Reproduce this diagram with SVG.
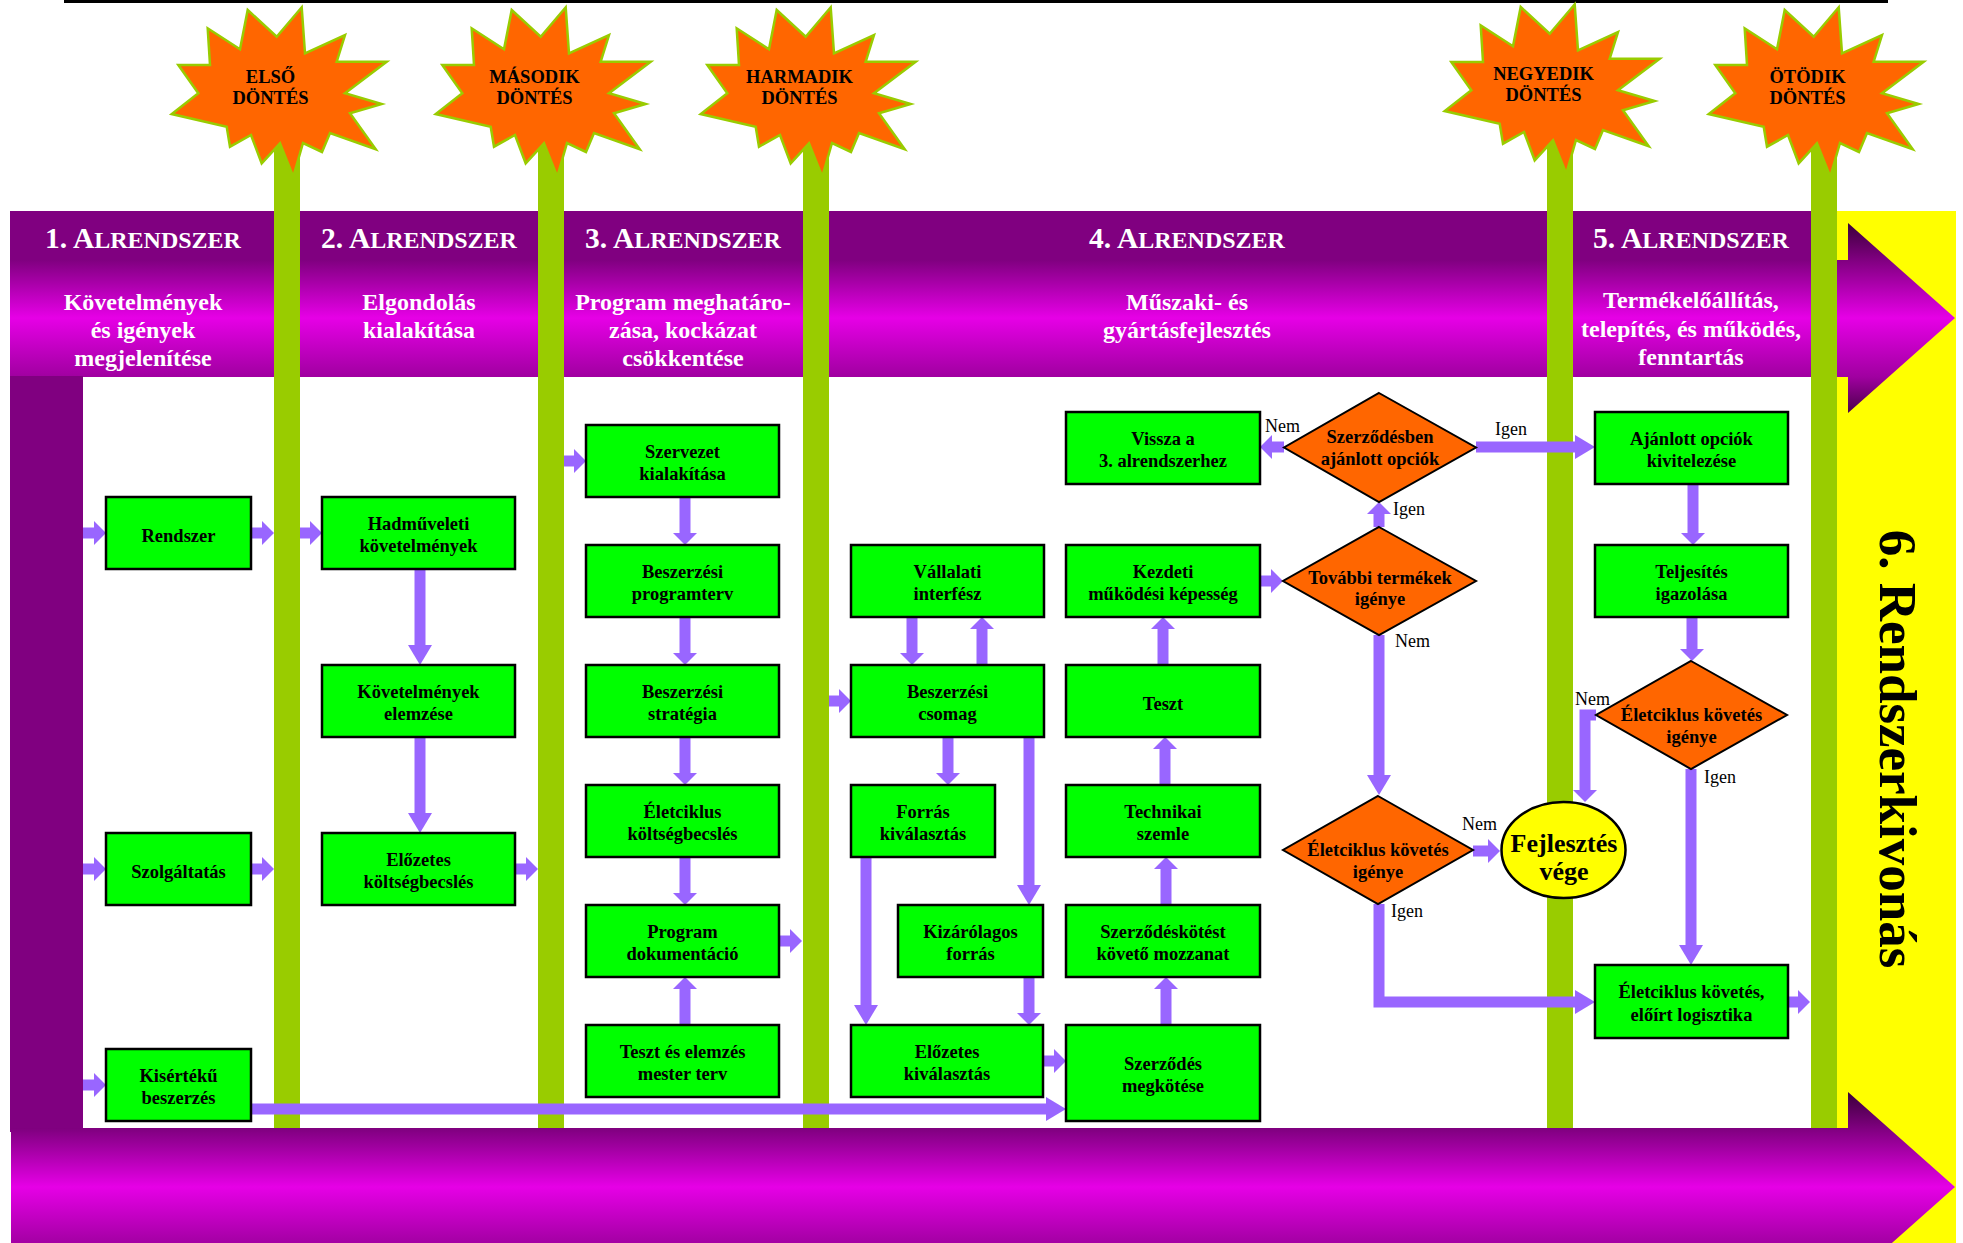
<svg xmlns="http://www.w3.org/2000/svg" width="1963" height="1243" viewBox="0 0 1963 1243">
  <style>
    .node rect { fill: #00FF00; stroke: #000; stroke-width: 2.5; }
    .node text, .dec text { font-family: "Liberation Serif", "Times New Roman", serif; font-weight: bold; font-size: 18.5px; fill: #000; text-anchor: middle; }
    .dec polygon { fill: #FF6600; stroke: #000; stroke-width: 2; }
    .lbl { font-family: "Liberation Serif", "Times New Roman", serif; font-size: 18px; fill: #000; }
    .ttl { font-family: "Liberation Serif", "Times New Roman", serif; font-weight: bold; font-size: 29.5px; fill: #fff; text-anchor: middle; }
    .ttl tspan { font-size: 24px; }
    .sub { font-family: "Liberation Serif", "Times New Roman", serif; font-weight: bold; font-size: 24px; fill: #fff; text-anchor: middle; }
    .star use { fill: #FF6600; stroke: #99CC00; stroke-width: 2.5; stroke-linejoin: miter; }
    .star text { font-family: "Liberation Serif", "Times New Roman", serif; font-weight: bold; font-size: 18.5px; fill: #000; text-anchor: middle; }
    .pole { fill: #99CC00; }
    .conn path { fill: none; stroke: #9966FF; stroke-width: 11; stroke-linejoin: miter; }
  </style>
  <defs>
    <linearGradient id="band" x1="0" y1="0" x2="0" y2="1">
      <stop offset="0" stop-color="#3A003A"/>
      <stop offset="0.195" stop-color="#800080"/>
      <stop offset="0.5" stop-color="#E600E6"/>
      <stop offset="0.81" stop-color="#A000A0"/>
      <stop offset="1" stop-color="#4A004A"/>
    </linearGradient>
    <marker id="ah" markerUnits="userSpaceOnUse" markerWidth="12" markerHeight="24" viewBox="0 0 12 24" refX="0" refY="12" orient="auto">
      <path d="M0,0 L12,12 L0,24 Z" fill="#9966FF"/>
    </marker>
    <marker id="ahL" markerUnits="userSpaceOnUse" markerWidth="20" markerHeight="24" viewBox="0 0 20 24" refX="0" refY="12" orient="auto">
      <path d="M0,0 L20,12 L0,24 Z" fill="#9966FF"/>
    </marker>
    <path id="burst" d="M247.7,10 L276.7,36.7 L301.7,7.3 L305,53.3 L345,35 L336.7,61.7 L386.7,61.7 L345,93.3 L381.7,104 L350,113.3 L375.7,149.3 L330,133 L322,152 L303,143 L293.3,176.7 L280,143.3 L261.7,163.3 L251,135 L230,146.7 L226.7,126.7 L171.7,114 L198.3,93.3 L178.3,65 L210,65 L207.7,28.3 L240,49.3 Z"/>
  </defs>

  <rect width="1963" height="1243" fill="#fff"/>

  <!-- rule across the top -->
  <rect x="64" y="0" width="1824" height="3" fill="#000"/>

  <!-- yellow closing column -->
  <rect x="1836" y="211" width="120" height="1032" fill="#FFFF00"/>

  <!-- subsystem title strip and upper process arrow -->
  <rect x="10" y="211" width="1801" height="50" fill="#800080"/>
  <path d="M10,260 H1848 V223 L1955,318 L1848,413 V377 H10 Z" fill="url(#band)"/>

  <!-- left side bar -->
  <rect x="10" y="376" width="73" height="756" fill="#800080"/>

  <!-- lower process arrow -->
  <path d="M11,1128 H1848 V1092 L1955,1187 L1848,1282 V1246 H11 Z" fill="url(#band)"/>

  <!-- decision poles -->
  <g id="poles">
    <rect class="pole" x="274" y="120" width="26" height="1008"/>
    <rect class="pole" x="538" y="120" width="26" height="1008"/>
    <rect class="pole" x="803" y="120" width="26" height="1008"/>
    <rect class="pole" x="1547" y="120" width="26" height="1008"/>
    <rect class="pole" x="1811" y="120" width="26" height="1008"/>
  </g>

  <!-- decision bursts -->
  <g id="star-1" class="star">
    <use href="#burst"/>
    <text x="270.5" y="83">ELSŐ</text>
    <text x="270.5" y="104">DÖNTÉS</text>
  </g>
  <g id="star-2" class="star">
    <use href="#burst" x="264"/>
    <text x="534.5" y="83">MÁSODIK</text>
    <text x="534.5" y="104">DÖNTÉS</text>
  </g>
  <g id="star-3" class="star">
    <use href="#burst" x="529"/>
    <text x="799.5" y="83">HARMADIK</text>
    <text x="799.5" y="104">DÖNTÉS</text>
  </g>
  <g id="star-4" class="star">
    <use href="#burst" x="1273" y="-3"/>
    <text x="1543.5" y="80">NEGYEDIK</text>
    <text x="1543.5" y="101">DÖNTÉS</text>
  </g>
  <g id="star-5" class="star">
    <use href="#burst" x="1537"/>
    <text x="1807.5" y="83">ÖTÖDIK</text>
    <text x="1807.5" y="104">DÖNTÉS</text>
  </g>

  <!-- subsystem headings -->
  <g id="headings">
    <text class="ttl" x="143" y="248">1. A<tspan>LRENDSZER</tspan></text>
    <text class="ttl" x="419" y="248">2. A<tspan>LRENDSZER</tspan></text>
    <text class="ttl" x="683" y="248">3. A<tspan>LRENDSZER</tspan></text>
    <text class="ttl" x="1187" y="248">4. A<tspan>LRENDSZER</tspan></text>
    <text class="ttl" x="1691" y="248">5. A<tspan>LRENDSZER</tspan></text>

    <text class="sub" x="143" y="310">Követelmények</text>
    <text class="sub" x="143" y="338">és igények</text>
    <text class="sub" x="143" y="366">megjelenítése</text>

    <text class="sub" x="419" y="310">Elgondolás</text>
    <text class="sub" x="419" y="338">kialakítása</text>

    <text class="sub" x="683" y="310">Program meghatáro-</text>
    <text class="sub" x="683" y="338">zása, kockázat</text>
    <text class="sub" x="683" y="366">csökkentése</text>

    <text class="sub" x="1187" y="310">Műszaki- és</text>
    <text class="sub" x="1187" y="338">gyártásfejlesztés</text>

    <text class="sub" x="1691" y="308">Termékelőállítás,</text>
    <text class="sub" x="1691" y="337">telepítés, és működés,</text>
    <text class="sub" x="1691" y="365">fenntartás</text>
  </g>

  <!-- connectors -->
  <g id="connectors" class="conn">
    <path d="M83,533 H94" marker-end="url(#ah)"/>
    <path d="M251,533 H262" marker-end="url(#ah)"/>
    <path d="M300,533 H310" marker-end="url(#ah)"/>
    <path d="M83,869 H94" marker-end="url(#ah)"/>
    <path d="M251,869 H262" marker-end="url(#ah)"/>
    <path d="M515,869 H526" marker-end="url(#ah)"/>
    <path d="M83,1085 H94" marker-end="url(#ah)"/>
    <path d="M251,1109 H1046" marker-end="url(#ahL)"/>
    <path d="M420,569 V645" marker-end="url(#ahL)"/>
    <path d="M420,737 V813" marker-end="url(#ahL)"/>
    <path d="M564,461 H574" marker-end="url(#ah)"/>
    <path d="M685,497 V533" marker-end="url(#ah)"/>
    <path d="M685,617 V653" marker-end="url(#ah)"/>
    <path d="M685,737 V773" marker-end="url(#ah)"/>
    <path d="M685,857 V893" marker-end="url(#ah)"/>
    <path d="M685,1025 V989" marker-end="url(#ah)"/>
    <path d="M779,941 H790" marker-end="url(#ah)"/>
    <path d="M829,701 H839" marker-end="url(#ah)"/>
    <path d="M912,617 V653" marker-end="url(#ah)"/>
    <path d="M982,665 V629" marker-end="url(#ah)"/>
    <path d="M948,737 V773" marker-end="url(#ah)"/>
    <path d="M1029,737 V885" marker-end="url(#ahL)"/>
    <path d="M866,857 V1005" marker-end="url(#ahL)"/>
    <path d="M1029,977 V1013" marker-end="url(#ah)"/>
    <path d="M1043,1061 H1054" marker-end="url(#ah)"/>
    <path d="M1166,1025 V989" marker-end="url(#ah)"/>
    <path d="M1166,905 V869" marker-end="url(#ah)"/>
    <path d="M1165,785 V749" marker-end="url(#ah)"/>
    <path d="M1163,665 V629" marker-end="url(#ah)"/>
    <path d="M1260,581 H1271" marker-end="url(#ah)"/>
    <path d="M1379,527 V514" marker-end="url(#ah)"/>
    <path d="M1284,447 H1272" marker-end="url(#ah)"/>
    <path d="M1476,447 H1575" marker-end="url(#ahL)"/>
    <path d="M1379,635 V775" marker-end="url(#ahL)"/>
    <path d="M1473,851 H1488" marker-end="url(#ah)"/>
    <path d="M1379,904 V1002 H1575" marker-end="url(#ahL)"/>
    <path d="M1693,484 V533" marker-end="url(#ah)"/>
    <path d="M1692,617 V649" marker-end="url(#ah)"/>
    <path d="M1596,715 H1585 V790" marker-end="url(#ah)"/>
    <path d="M1691,769 V945" marker-end="url(#ahL)"/>
    <path d="M1788,1002 H1798" marker-end="url(#ah)"/>
  </g>

  <!-- branch labels -->
  <g id="labels">
    <text class="lbl" x="1265" y="432">Nem</text>
    <text class="lbl" x="1495" y="435">Igen</text>
    <text class="lbl" x="1393" y="515">Igen</text>
    <text class="lbl" x="1395" y="647">Nem</text>
    <text class="lbl" x="1462" y="830">Nem</text>
    <text class="lbl" x="1391" y="917">Igen</text>
    <text class="lbl" x="1575" y="705">Nem</text>
    <text class="lbl" x="1704" y="783">Igen</text>
  </g>

  <!-- subsystem 1 -->
  <g id="n-rendszer" class="node"><rect x="106" y="497" width="145" height="72"/><text x="178.5" y="542">Rendszer</text></g>
  <g id="n-szolgaltatas" class="node"><rect x="106" y="833" width="145" height="72"/><text x="178.5" y="878">Szolgáltatás</text></g>
  <g id="n-kiserteku" class="node"><rect x="106" y="1049" width="145" height="72"/><text x="178.5" y="1082">Kisértékű</text><text x="178.5" y="1104">beszerzés</text></g>

  <!-- subsystem 2 -->
  <g id="n-hadmuveleti" class="node"><rect x="322" y="497" width="193" height="72"/><text x="418.5" y="529.5">Hadműveleti</text><text x="418.5" y="552">követelmények</text></g>
  <g id="n-kov-elemzes" class="node"><rect x="322" y="665" width="193" height="72"/><text x="418.5" y="697.5">Követelmények</text><text x="418.5" y="720">elemzése</text></g>
  <g id="n-elozetes-koltseg" class="node"><rect x="322" y="833" width="193" height="72"/><text x="418.5" y="865.5">Előzetes</text><text x="418.5" y="888">költségbecslés</text></g>

  <!-- subsystem 3 -->
  <g id="n-szervezet" class="node"><rect x="586" y="425" width="193" height="72"/><text x="682.5" y="457.5">Szervezet</text><text x="682.5" y="480">kialakítása</text></g>
  <g id="n-programterv" class="node"><rect x="586" y="545" width="193" height="72"/><text x="682.5" y="577.5">Beszerzési</text><text x="682.5" y="600">programterv</text></g>
  <g id="n-strategia" class="node"><rect x="586" y="665" width="193" height="72"/><text x="682.5" y="697.5">Beszerzési</text><text x="682.5" y="720">stratégia</text></g>
  <g id="n-eletciklus-koltseg" class="node"><rect x="586" y="785" width="193" height="72"/><text x="682.5" y="817.5">Életciklus</text><text x="682.5" y="840">költségbecslés</text></g>
  <g id="n-program-dok" class="node"><rect x="586" y="905" width="193" height="72"/><text x="682.5" y="937.5">Program</text><text x="682.5" y="960">dokumentáció</text></g>
  <g id="n-teszt-elemzes" class="node"><rect x="586" y="1025" width="193" height="72"/><text x="682.5" y="1057.5">Teszt és elemzés</text><text x="682.5" y="1080">mester terv</text></g>

  <!-- subsystem 4, procurement column -->
  <g id="n-vallalati" class="node"><rect x="851" y="545" width="193" height="72"/><text x="947.5" y="577.5">Vállalati</text><text x="947.5" y="600">interfész</text></g>
  <g id="n-csomag" class="node"><rect x="851" y="665" width="193" height="72"/><text x="947.5" y="697.5">Beszerzési</text><text x="947.5" y="720">csomag</text></g>
  <g id="n-forras" class="node"><rect x="851" y="785" width="144" height="72"/><text x="923" y="817.5">Forrás</text><text x="923" y="840">kiválasztás</text></g>
  <g id="n-kizarolagos" class="node"><rect x="898" y="905" width="145" height="72"/><text x="970.5" y="937.5">Kizárólagos</text><text x="970.5" y="960">forrás</text></g>
  <g id="n-elozetes-kiv" class="node"><rect x="851" y="1025" width="192" height="72"/><text x="947" y="1057.5">Előzetes</text><text x="947" y="1080">kiválasztás</text></g>

  <!-- subsystem 4, development column -->
  <g id="n-vissza" class="node"><rect x="1066" y="412" width="194" height="72"/><text x="1163" y="444.5">Vissza a</text><text x="1163" y="467">3. alrendszerhez</text></g>
  <g id="n-kezdeti" class="node"><rect x="1066" y="545" width="194" height="72"/><text x="1163" y="577.5">Kezdeti</text><text x="1163" y="600">működési képesség</text></g>
  <g id="n-teszt" class="node"><rect x="1066" y="665" width="194" height="72"/><text x="1163" y="710">Teszt</text></g>
  <g id="n-technikai" class="node"><rect x="1066" y="785" width="194" height="72"/><text x="1163" y="817.5">Technikai</text><text x="1163" y="840">szemle</text></g>
  <g id="n-szerzodeskotest" class="node"><rect x="1066" y="905" width="194" height="72"/><text x="1163" y="937.5">Szerződéskötést</text><text x="1163" y="960">követő mozzanat</text></g>
  <g id="n-szerzodes" class="node"><rect x="1066" y="1025" width="194" height="96"/><text x="1163" y="1069.5">Szerződés</text><text x="1163" y="1092">megkötése</text></g>

  <!-- decisions -->
  <g id="d-szerzodesben" class="dec"><polygon points="1379,393 1476,447.5 1379,502 1284,447.5"/><text x="1380" y="443">Szerződésben</text><text x="1380" y="465">ajánlott opciók</text></g>
  <g id="d-tovabbi" class="dec"><polygon points="1379,527 1476,581 1379,635 1283,581"/><text x="1380" y="583.5">További termékek</text><text x="1380" y="605">igénye</text></g>
  <g id="d-eletciklus-4" class="dec"><polygon points="1378,796 1473,850 1378,904 1283,850"/><text x="1378" y="855.5">Életciklus követés</text><text x="1378" y="877.5">igénye</text></g>
  <g id="d-eletciklus-5" class="dec"><polygon points="1691,661 1787,715 1691,769 1596,715"/><text x="1691.5" y="720.5">Életciklus követés</text><text x="1691.5" y="742.5">igénye</text></g>

  <!-- end of development -->
  <g id="n-fejlesztes-vege">
    <ellipse cx="1563.5" cy="850" rx="62" ry="48" fill="#FFFF00" stroke="#000" stroke-width="2.5"/>
    <text x="1564" y="852" font-family="Liberation Serif, Times New Roman, serif" font-weight="bold" font-size="26" text-anchor="middle">Fejlesztés</text>
    <text x="1564" y="880" font-family="Liberation Serif, Times New Roman, serif" font-weight="bold" font-size="26" text-anchor="middle">vége</text>
  </g>

  <!-- subsystem 5 -->
  <g id="n-ajanlott" class="node"><rect x="1595" y="412" width="193" height="72"/><text x="1691.5" y="444.5">Ajánlott opciók</text><text x="1691.5" y="467">kivitelezése</text></g>
  <g id="n-teljesites" class="node"><rect x="1595" y="545" width="193" height="72"/><text x="1691.5" y="577.5">Teljesítés</text><text x="1691.5" y="600">igazolása</text></g>
  <g id="n-eletciklus-log" class="node"><rect x="1595" y="965" width="193" height="73"/><text x="1691.5" y="998">Életciklus követés,</text><text x="1691.5" y="1020.5">előírt logisztika</text></g>

  <!-- closing phase caption -->
  <text id="rendszerkivonas" transform="translate(1880,749) rotate(90)" font-family="Liberation Serif, Times New Roman, serif" font-weight="bold" font-size="53" text-anchor="middle" fill="#000">6. Rendszerkivonás</text>
</svg>
